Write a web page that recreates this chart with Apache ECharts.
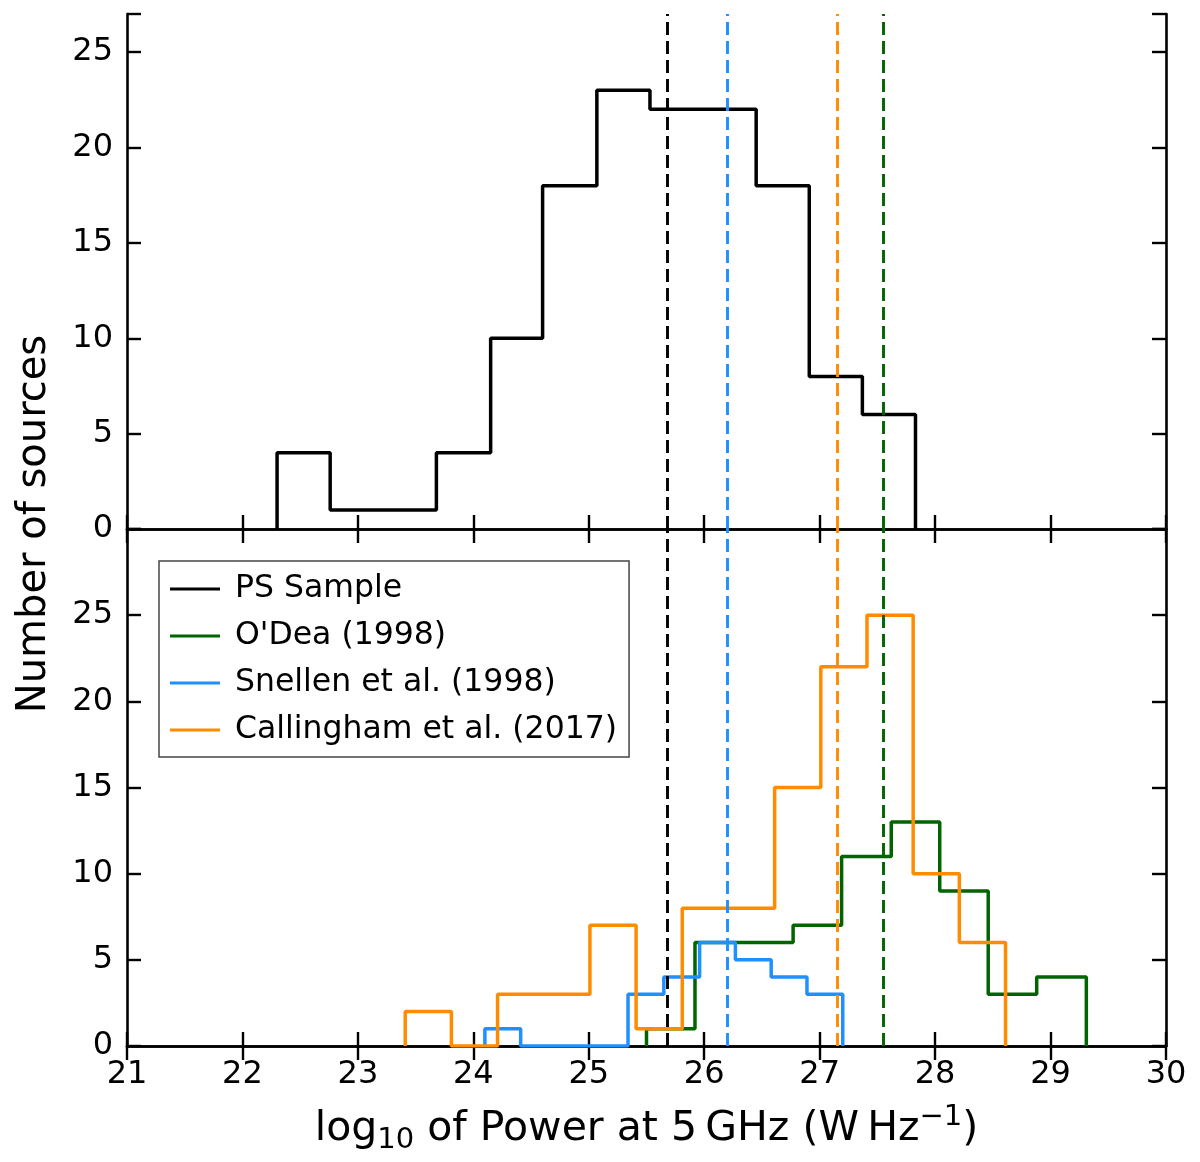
<!DOCTYPE html>
<html>
<head>
<meta charset="utf-8">
<script src="https://cdn.jsdelivr.net/npm/echarts@6/dist/echarts.min.js"></script>
<style>
html,body{margin:0;padding:0;background:#fff;}
#chart{width:1200px;height:1162px;}
</style>
</head>
<body>
<div id="chart"></div>
<script>
// ---- data ----
const psEdges = [22.30, 22.76, 23.22, 23.68, 24.15, 24.60, 25.07, 25.53, 25.99, 26.45, 26.91, 27.37, 27.83];
const psCounts = [4, 1, 1, 4, 10, 18, 23, 22, 22, 18, 8, 6];

const odeaEdges = [25.50, 25.92, 26.35, 26.77, 27.19, 27.62, 28.04, 28.46, 28.88, 29.31];
const odeaCounts = [1, 6, 6, 7, 11, 13, 9, 3, 4];

const snellenEdges = [24.10, 24.41, 24.72, 25.03, 25.34, 25.65, 25.96, 26.27, 26.58, 26.89, 27.20];
const snellenCounts = [1, 0, 0, 0, 3, 4, 6, 5, 4, 3];

const callEdges = [23.41, 23.81, 24.21, 24.61, 25.01, 25.41, 25.81, 26.21, 26.61, 27.01, 27.41, 27.81, 28.21, 28.61];
const callCounts = [2, 0, 3, 3, 7, 1, 8, 8, 15, 22, 25, 10, 6];

const seriesNames = ['PS Sample', "O'Dea (1998)", 'Snellen et al. (1998)', 'Callingham et al. (2017)'];
const medianValues = [25.68, 27.55, 26.20, 27.15]; // PS, O'Dea, Snellen, Callingham

const xTickValues = [21, 22, 23, 24, 25, 26, 27, 28, 29, 30];
const yTickLabels = [0, 5, 10, 15, 20, 25];

// ---- styling ----
const colors = ['#000000', '#006400', '#1e90ff', '#ff8c00'];
const FONT = 'DejaVu Sans';

function stepOutline(edges, counts) {
  const pts = [[edges[0], 0]];
  for (let i = 0; i < counts.length; i++) {
    pts.push([edges[i], counts[i]]);
    pts.push([edges[i + 1], counts[i]]);
  }
  pts.push([edges[edges.length - 1], 0]);
  return pts;
}

function medianLines() {
  return {
    silent: true,
    symbol: ['none', 'none'],
    label: { show: false },
    animation: false,
    data: medianValues.map((v, i) => ({
      xAxis: v,
      lineStyle: { color: colors[i], width: 2.9, type: [13, 6] }
    }))
  };
}

const axisLineStyle = { show: true, lineStyle: { color: '#000', width: 2.6 } };
const tickStyle = { show: true, inside: true, length: 14, lineStyle: { color: '#000', width: 2.4 } };

function xAx(grid, pos, showLabels, extra) {
  return Object.assign({
    type: 'value', gridIndex: grid, position: pos,
    min: xTickValues[0], max: xTickValues[xTickValues.length - 1], interval: 1,
    axisLine: axisLineStyle, axisTick: tickStyle, splitLine: { show: false },
    axisLabel: { show: showLabels, fontFamily: FONT, fontSize: 32, color: '#000', margin: 13 }
  }, extra || {});
}
function yAx(grid, pos, max, showLabels) {
  return {
    type: 'value', gridIndex: grid, position: pos,
    min: 0, max: max, interval: 5,
    axisLine: axisLineStyle, axisTick: tickStyle, splitLine: { show: false },
    axisLabel: {
      show: showLabels, fontFamily: FONT, fontSize: 32, color: '#000', margin: 14,
      formatter: v => (yTickLabels.indexOf(v) >= 0 ? String(v) : '')
    }
  };
}

const chart = echarts.init(document.getElementById('chart'), null, { renderer: 'canvas' });

const option = {
  animation: false,
  backgroundColor: '#fff',
  grid: [
    { left: 127, right: 34, top: 14, height: 515, containLabel: false, outerBoundsMode: 'none' },
    { left: 127, right: 34, top: 529, height: 517, containLabel: false, outerBoundsMode: 'none' }
  ],
  xAxis: [
    xAx(0, 'bottom', false),
    xAx(0, 'top', false),
    xAx(1, 'bottom', true, {
      name: '{a|log}{sub|10}{a| of Power at 5\u2009GHz (W\u2009Hz}{sup|\u22121}{a|)}',
      nameLocation: 'middle',
      nameGap: 55,
      nameTextStyle: {
        fontFamily: FONT, color: '#000',
        rich: {
          a: { fontFamily: FONT, fontSize: 41, color: '#000', lineHeight: 57 },
          sub: { fontFamily: FONT, fontSize: 29, color: '#000', lineHeight: 57, padding: [22, 0, 0, 0] },
          sup: { fontFamily: FONT, fontSize: 29, color: '#000', lineHeight: 57, padding: [0, 0, 24, 0] }
        }
      }
    }),
    xAx(1, 'top', false)
  ],
  yAxis: [
    yAx(0, 'left', 27, true),
    yAx(0, 'right', 27, false),
    yAx(1, 'left', 30, true),
    yAx(1, 'right', 30, false)
  ],
  legend: {
    data: seriesNames,
    orient: 'vertical',
    left: 159, top: 561,
    icon: 'rect', itemWidth: 50, itemHeight: 3, itemGap: 15,
    padding: [12, 12, 11, 11],
    borderColor: '#444', borderWidth: 1.5, borderRadius: 0,
    backgroundColor: '#fff',
    selectedMode: false,
    textStyle: { fontFamily: FONT, fontSize: 31.5, color: '#000', lineHeight: 32, padding: [0, 0, 0, 10] }
  },
  graphic: [{
    type: 'text',
    x: 35, y: 524,
    rotation: Math.PI / 2,
    style: {
      text: 'Number of sources',
      font: '40px "DejaVu Sans"',
      fill: '#000',
      textAlign: 'center',
      textVerticalAlign: 'middle'
    }
  }],
  series: [
    {
      name: seriesNames[0], type: 'line', xAxisIndex: 0, yAxisIndex: 0,
      data: stepOutline(psEdges, psCounts), symbol: 'none', showSymbol: false,
      lineStyle: { color: colors[0], width: 3.5 }, itemStyle: { color: colors[0] },
      markLine: medianLines(), z: 2
    },
    {
      name: seriesNames[1], type: 'line', xAxisIndex: 2, yAxisIndex: 2,
      data: stepOutline(odeaEdges, odeaCounts), symbol: 'none', showSymbol: false,
      lineStyle: { color: colors[1], width: 3.5 }, itemStyle: { color: colors[1] },
      markLine: medianLines(), z: 2
    },
    {
      name: seriesNames[2], type: 'line', xAxisIndex: 2, yAxisIndex: 2,
      data: stepOutline(snellenEdges, snellenCounts), symbol: 'none', showSymbol: false,
      lineStyle: { color: colors[2], width: 3.5 }, itemStyle: { color: colors[2] }, z: 3
    },
    {
      name: seriesNames[3], type: 'line', xAxisIndex: 2, yAxisIndex: 2,
      data: stepOutline(callEdges, callCounts), symbol: 'none', showSymbol: false,
      lineStyle: { color: colors[3], width: 3.5 }, itemStyle: { color: colors[3] }, z: 4
    }
  ]
};
chart.setOption(option);
</script>
</body>
</html>
